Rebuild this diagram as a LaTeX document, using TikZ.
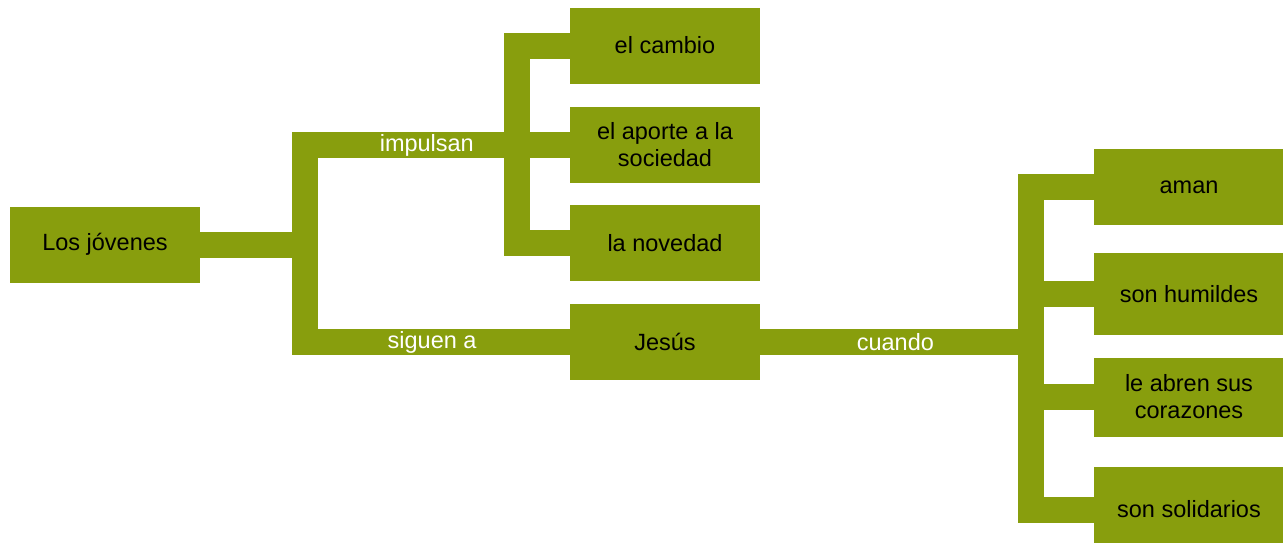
\documentclass[tikz,border=0pt]{standalone}
\usepackage{fontspec}
\setmainfont{Liberation Sans}
\definecolor{olivebar}{RGB}{136,158,13}

\begin{document}
\begin{tikzpicture}[x=1pt, y=-1pt,
  box/.style={fill=olivebar, minimum width=190pt, minimum height=76pt, inner sep=0pt,
    align=center, font=\fontsize{23.5}{27}\selectfont},
  bar/.style={draw=olivebar, line width=26pt, line join=miter},
  barlabel/.style={text=white, inner sep=0pt, font=\fontsize{23.5}{27}\selectfont}]
\useasboundingbox (0,0) rectangle (1283,542);

% boxes
\node[box] (jovenes) at (105,244.5) {Los jóvenes};
\node[box] (cambio) at (665,45.5) {el cambio};
\node[box] (aporte) at (665,145) {el aporte a la\\sociedad};
\node[box] (novedad) at (665,243) {la novedad};
\node[box] (jesus) at (665,342) {Jesús};
\node[box] (aman) at (1189,187) {aman};
\node[box, minimum height=82pt] (humildes) at (1189,294) {son humildes};
\node[box, minimum height=79pt] (abren) at (1189,397) {le abren sus\\corazones};
\node[box, minimum height=85pt] (solidarios) at (1189,509.5) {son solidarios};

% forks
\coordinate (fork1) at (305,244.5);
\coordinate (fork2) at (517,145);
\coordinate (fork3) at (1030.5,342);

\draw[bar] (jovenes) -- (fork1);
\draw[bar] (aporte) -| node[barlabel, pos=0.27] (impulsan) {impulsan} (fork1)
  |- node[barlabel, pos=0.74] (siguen) {siguen a} (jesus);
\draw[bar] (cambio) -| (fork2) |- (novedad);

\draw[bar] (jesus) -- node[barlabel] (cuando) {cuando} (fork3);
\draw[bar] (aman) -| (fork3) |- (solidarios);
\draw[bar] (humildes -| fork3) -- (humildes);
\draw[bar] (abren -| fork3) -- (abren);
\end{tikzpicture}
\end{document}
